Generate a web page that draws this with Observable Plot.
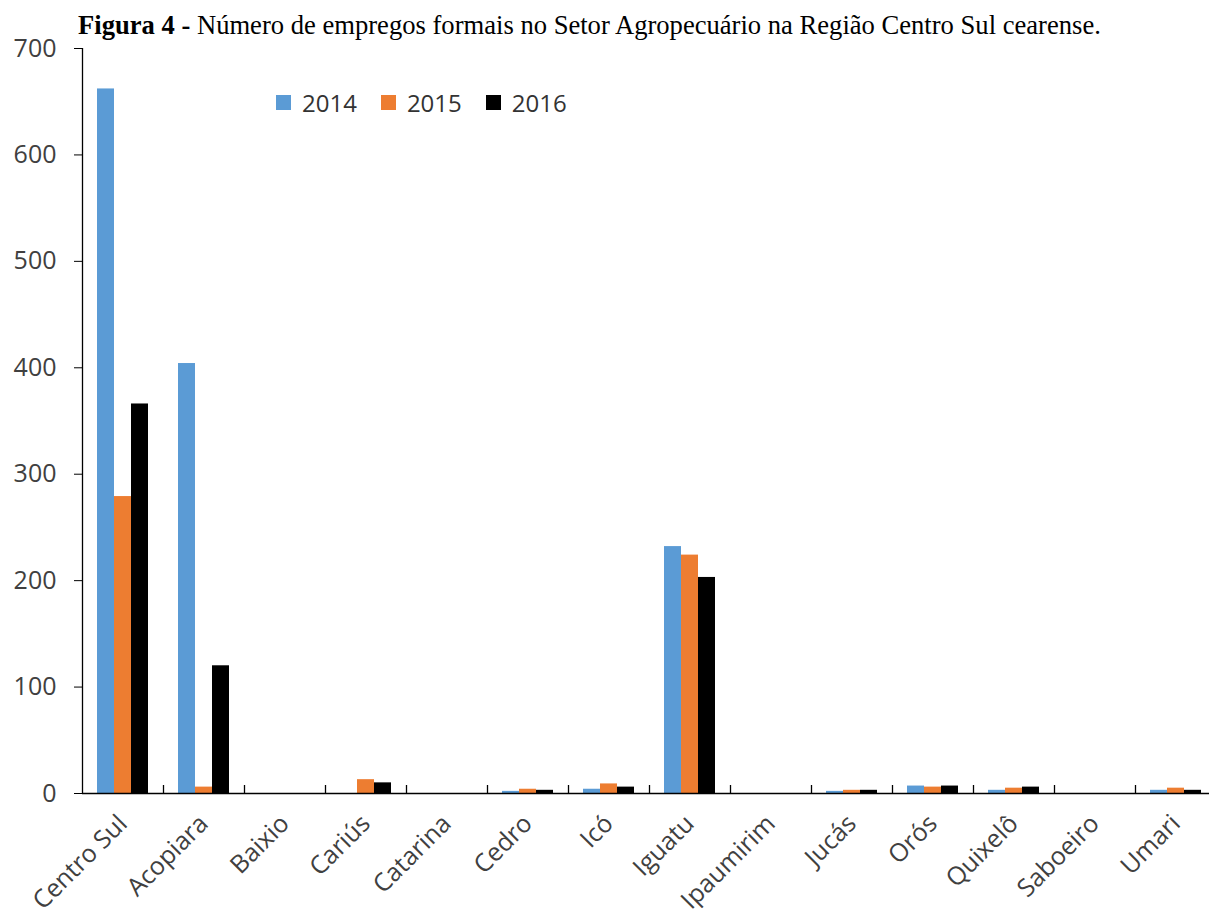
<!DOCTYPE html>
<html>
<head>
<meta charset="utf-8">
<script src="https://cdn.jsdelivr.net/npm/d3@7"></script>
<script src="https://cdn.jsdelivr.net/npm/@observablehq/plot@0.6"></script>
<style>
  html, body { margin: 0; padding: 0; background: #fff; }
  #wrap { position: relative; width: 1209px; height: 916px; overflow: hidden; }
  #title { height: 40px; box-sizing: border-box; padding-top: 11px; padding-left: 78px;
           font-family: "Liberation Serif", "Times New Roman", serif; font-size: 26.6px; line-height: 28px; color: #000; white-space: nowrap; }
  #legend { position: absolute; left: 276px; top: 86px; display: flex; align-items: center;
            font-family: "Open Sans", sans-serif; font-size: 24px; color: #333; }
  #legend .item { display: flex; align-items: center; margin-right: 24px; }
  #legend .sw { width: 15px; height: 15px; margin-right: 11px; }
</style>
</head>
<body>
<div id="wrap">
  <div id="title"><b>Figura 4 -</b> Número de empregos formais no Setor Agropecuário na Região Centro Sul cearense.</div>
  <div id="chart"></div>
  <div id="legend"></div>
</div>
<script>
const categories = ["Centro Sul","Acopiara","Baixio","Cariús","Catarina","Cedro","Icó","Iguatu","Ipaumirim","Jucás","Orós","Quixelô","Saboeiro","Umari"];
const years = ["2014","2015","2016"];
const values2014 = [662, 404, 0, 0, 0, 2, 4, 232, 0, 2, 7, 3, 0, 3];
const values2015 = [279, 6, 0, 13, 0, 4, 9, 224, 0, 3, 6, 5, 0, 5];
const values2016 = [366, 120, 0, 10, 0, 3, 6, 203, 0, 3, 7, 6, 0, 3];
const colors = ["#5B9BD5", "#ED7D31", "#000000"];
const yTicks = [0, 100, 200, 300, 400, 500, 600, 700];

const series = [values2014, values2015, values2016];
const rows = [];
series.forEach((vals, k) => vals.forEach((v, j) => rows.push({category: categories[j], year: years[k], value: v})));

const W = 1209, H = 876;
const left = 82, right = 1216;
const bw = (right - left) / categories.length;
const barW = 17;
const inset = (bw - barW) / 2;

const barMarks = years.map((yr, k) => Plot.barY(rows.filter(d => d.year === yr && d.value > 0), {
  x: "category", y: "value", fill: "year",
  insetLeft: inset, insetRight: inset, dx: (k - 1) * barW
}));

const chart = Plot.plot({
  width: W, height: H,
  marginTop: 8, marginBottom: 123, marginLeft: left, marginRight: 0,
  style: {fontFamily: "'Open Sans', sans-serif", color: "#404040", background: "transparent", overflow: "visible"},
  x: {type: "band", domain: categories, range: [left, right], padding: 0},
  y: {domain: [0, 700]},
  color: {domain: years, range: colors},
  marks: [
    ...barMarks,
    Plot.ruleY([0], {stroke: "#000", strokeWidth: 1.3}),
    Plot.ruleX([categories[0]], {y1: 0, y2: 700, dx: -bw / 2, stroke: "#000", strokeWidth: 1.3}),
    Plot.ruleX(categories.slice(1), {x: d => d, y1: 0, y2: 0, insetBottom: 8, dx: -bw / 2, stroke: "#000", strokeWidth: 1.3}),
    Plot.axisY({ticks: yTicks, tickSize: 8, tickPadding: 18, fontSize: 25, label: null, stroke: "#000", fill: "#404040"}),
    Plot.axisX({tickSize: 0, tickRotate: -45, tickPadding: 26, fontSize: 25, label: null, fill: "#404040"})
  ]
});
document.getElementById("chart").appendChild(chart);

const legend = document.getElementById("legend");
years.forEach((yr, k) => {
  const item = document.createElement("div");
  item.className = "item";
  const sw = document.createElement("div");
  sw.className = "sw";
  sw.style.background = colors[k];
  const t = document.createElement("span");
  t.textContent = yr;
  item.appendChild(sw); item.appendChild(t);
  legend.appendChild(item);
});
</script>
</body>
</html>
